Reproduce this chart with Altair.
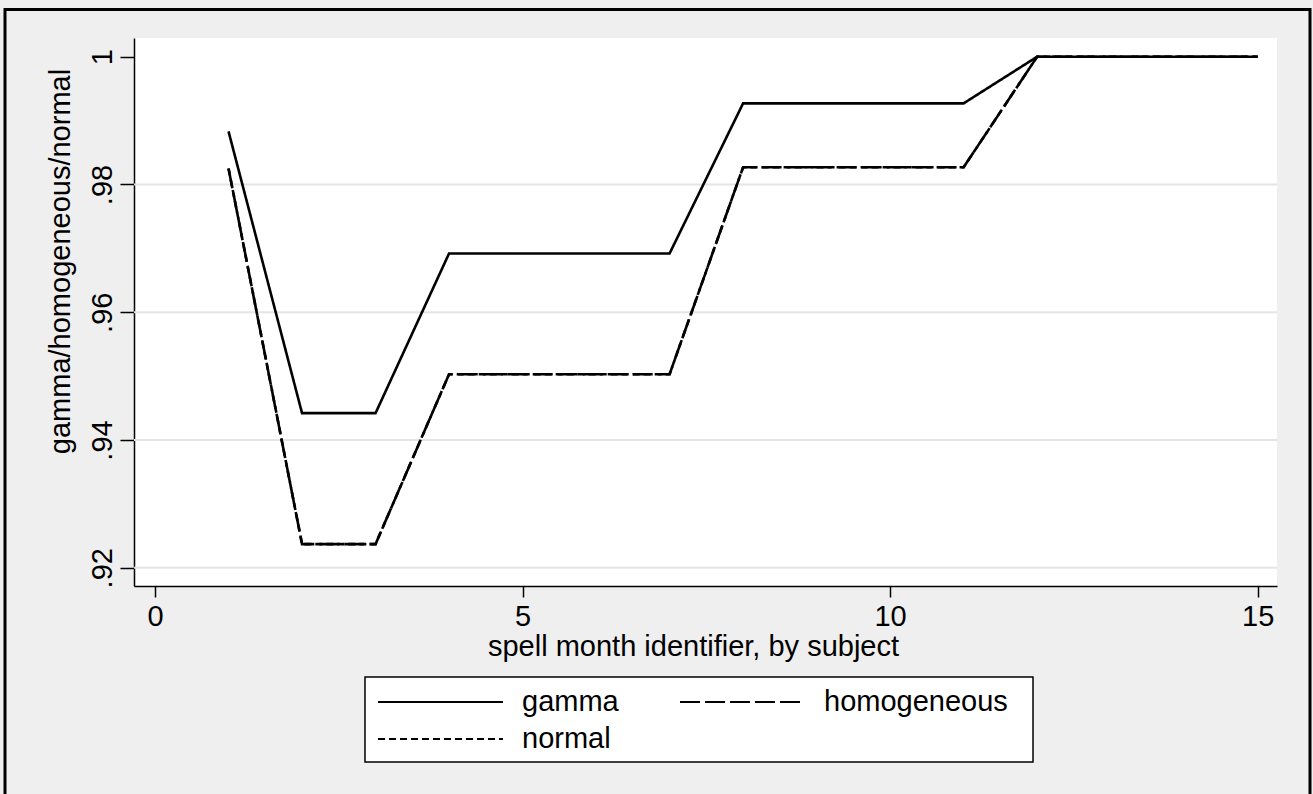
import altair as alt
import pandas as pd

# Spell month identifier (x) and the three estimated series (y)
months = list(range(1, 16))
gamma = [0.9883, 0.9442, 0.9442, 0.9692, 0.9692, 0.9692, 0.9692,
         0.9927, 0.9927, 0.9927, 0.9927, 1.0, 1.0, 1.0, 1.0]
homogeneous = [0.9825, 0.9237, 0.9237, 0.9503, 0.9503, 0.9503, 0.9503,
               0.9827, 0.9827, 0.9827, 0.9827, 1.0, 1.0, 1.0, 1.0]
normal = [0.9825, 0.9237, 0.9237, 0.9503, 0.9503, 0.9503, 0.9503,
          0.9827, 0.9827, 0.9827, 0.9827, 1.0, 1.0, 1.0, 1.0]

series_names = ["gamma", "homogeneous", "normal"]
y_ticks = [0.92, 0.94, 0.96, 0.98, 1.0]
grid_values = [0.92, 0.94, 0.96, 0.98]
x_ticks = [0, 5, 10, 15]

FONT = "Liberation Sans"
FS = 29
W, H = 1143, 548
DASHES = {"gamma": [1, 0], "homogeneous": [20, 5], "normal": [7, 4]}

long = pd.DataFrame({
    "month": months * 3,
    "value": gamma + homogeneous + normal,
    "series": ["gamma"] * 15 + ["homogeneous"] * 15 + ["normal"] * 15,
})

x_scale = alt.Scale(domain=[-0.286, 15.263], nice=False, zero=False)
y_scale = alt.Scale(domain=[0.91714, 1.00293], nice=False, zero=False)

x_axis = alt.Axis(
    values=x_ticks, grid=False, tickSize=11, tickWidth=1.5, tickColor="black",
    domainColor="black", domainWidth=1.5, labelFont=FONT, labelFontSize=FS,
    labelColor="black", labelPadding=5, labelFlush=False, labelOverlap=False,
    title="spell month identifier, by subject", titleFont=FONT, titleFontSize=FS,
    titleFontWeight="normal", titleColor="black", titleX=559, titleY=60,
    titleAlign="center", titleBaseline="middle",
)
y_axis = alt.Axis(
    values=y_ticks, grid=False, tickSize=14, tickWidth=1.5, tickColor="black",
    domainColor="black", domainWidth=1.5, labelFont=FONT, labelFontSize=FS,
    labelColor="black", labelAngle=270, labelAlign="center",
    labelBaseline="bottom", labelPadding=3, labelFlush=False, labelOverlap=False,
    labelExpr="datum.value == 1 ? '1' : substring(format(datum.value, '.2f'), 1)",
    title="gamma/homogeneous/normal", titleFont=FONT, titleFontSize=FS,
    titleFontWeight="normal", titleColor="black", titleAngle=270,
    titleX=-74, titleY=223, titleAlign="center", titleBaseline="middle",
)

grid = alt.Chart(pd.DataFrame({"g": grid_values})).mark_rule(
    color="#E4E4E4", strokeWidth=2
).encode(
    y=alt.Y("g:Q", scale=y_scale, axis=y_axis),
    x=alt.value(0), x2=alt.value(W),
)

lines = alt.Chart(long).mark_line(color="black", strokeWidth=2.6).encode(
    x=alt.X("month:Q", scale=x_scale, axis=x_axis),
    y=alt.Y("value:Q", scale=y_scale),
    strokeDash=alt.StrokeDash(
        "series:N",
        scale=alt.Scale(domain=series_names,
                        range=[DASHES[s] for s in series_names]),
        legend=None,
    ),
    detail="series:N",
)

one = alt.Data(values=[{}])

# Legend box beneath the x-axis title
box_x0, box_x1, box_y0, box_y1 = 231, 899, 639, 724
legend_box = alt.Chart(one).mark_rect(
    fill="white", stroke="black", strokeWidth=1.5
).encode(x=alt.value(box_x0), x2=alt.value(box_x1),
         y=alt.value(box_y0), y2=alt.value(box_y1))

rows = [664, 701]
cols = [244, 546]
key_len = 125
key_gap = 19
slots = {"gamma": (0, 0), "homogeneous": (1, 0), "normal": (0, 1)}

legend_layers = []
for name in series_names:
    c, r = slots[name]
    x0 = cols[c]
    yy = rows[r]
    legend_layers.append(
        alt.Chart(one).mark_rule(color="black", strokeWidth=2.2,
                                 strokeDash=DASHES[name]).encode(
            x=alt.value(x0), x2=alt.value(x0 + key_len), y=alt.value(yy))
    )
    legend_layers.append(
        alt.Chart(one).mark_text(font=FONT, fontSize=FS, color="black",
                                 align="left", baseline="middle").encode(
            x=alt.value(x0 + key_len + key_gap), y=alt.value(yy),
            text=alt.value(name))
    )

# Outer frame of the graph region
frame = alt.Chart(one).mark_rect(
    fillOpacity=0, stroke="black", strokeWidth=3
).encode(x=alt.value(-129), x2=alt.value(1176),
         y=alt.value(-28.5), y2=alt.value(800))

chart = alt.layer(grid, lines, legend_box, *legend_layers, frame).properties(
    width=W, height=H,
    padding={"left": 134, "top": 38, "right": 36, "bottom": 208},
    autosize="none",
    background="#EFEFEF",
).configure_view(fill="white", stroke=None)

chart.save("out.html", embed_options={"renderer": "svg", "actions": False})
